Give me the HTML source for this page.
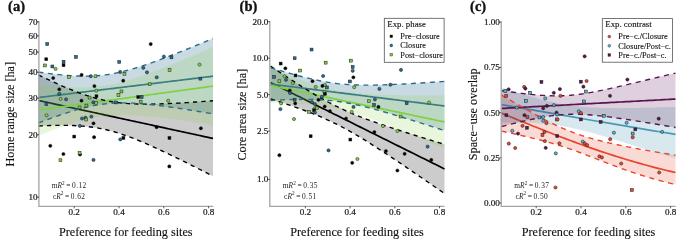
<!DOCTYPE html>
<html><head><meta charset="utf-8"><title>Figure</title>
<style>html,body{margin:0;padding:0;background:#fff;}svg{display:block;will-change:transform;}</style>
</head><body>
<svg width="685" height="243" viewBox="0 0 685 243">
<style>
.d{fill:none;stroke-width:1.4;}
.s{fill:none;stroke-width:1.7;}
text{font-family:"Liberation Serif", serif;fill:#111;stroke:#111;stroke-width:0.12px;}
.tk{font-size:9.1px;fill:#1a1a1a;stroke:#1a1a1a;stroke-width:0.22px;}
.lab{font-size:12.2px;}
.ttl{font-size:14.5px;font-weight:bold;stroke:#111;stroke-width:0.35px;}
.r2{font-size:7.4px;stroke:none;fill:#222;}
.lg{font-size:8.25px;}
.lgt{font-size:8.8px;}
</style>
<rect width="685" height="243" fill="#fff"/>
<polygon points="38.50,75.06 41.41,76.45 44.32,77.83 47.23,79.19 50.13,80.54 53.04,81.88 55.95,83.20 58.86,84.49 61.77,85.77 64.67,87.02 67.58,88.25 70.49,89.45 73.40,90.62 76.31,91.75 79.22,92.85 82.12,93.91 85.03,94.92 87.94,95.89 90.85,96.80 93.76,97.67 96.67,98.47 99.58,99.23 102.48,99.92 105.39,100.55 108.30,101.13 111.21,101.64 114.12,102.10 117.03,102.50 119.93,102.85 122.84,103.15 125.75,103.41 128.66,103.62 131.57,103.79 134.47,103.92 137.38,104.02 140.29,104.08 143.20,104.12 146.11,104.13 149.02,104.12 151.93,104.09 154.83,104.04 157.74,103.97 160.65,103.88 163.56,103.78 166.47,103.67 169.38,103.55 172.28,103.41 175.19,103.26 178.10,103.11 181.01,102.94 183.92,102.77 186.82,102.59 189.73,102.41 192.64,102.22 195.55,102.02 198.46,101.82 201.37,101.61 204.28,101.40 207.18,101.18 210.09,100.96 213.00,100.74 213.00,176.15 210.09,174.66 207.18,173.18 204.28,171.70 201.37,170.22 198.46,168.75 195.55,167.28 192.64,165.82 189.73,164.37 186.82,162.92 183.92,161.47 181.01,160.04 178.10,158.61 175.19,157.19 172.28,155.78 169.38,154.38 166.47,152.99 163.56,151.61 160.65,150.24 157.74,148.89 154.83,147.56 151.93,146.25 149.02,144.95 146.11,143.67 143.20,142.42 140.29,141.19 137.38,140.00 134.47,138.83 131.57,137.70 128.66,136.60 125.75,135.55 122.84,134.54 119.93,133.57 117.03,132.66 114.12,131.79 111.21,130.99 108.30,130.24 105.39,129.55 102.48,128.92 99.58,128.35 96.67,127.83 93.76,127.38 90.85,126.98 87.94,126.63 85.03,126.33 82.12,126.08 79.22,125.87 76.31,125.71 73.40,125.57 70.49,125.48 67.58,125.41 64.67,125.38 61.77,125.36 58.86,125.38 55.95,125.41 53.04,125.46 50.13,125.53 47.23,125.62 44.32,125.72 41.41,125.83 38.50,125.96" fill="#000000" fill-opacity="0.2" stroke="none"/>
<polyline points="38.50,100.51 41.41,101.14 44.32,101.77 47.23,102.41 50.13,103.04 53.04,103.67 55.95,104.30 58.86,104.93 61.77,105.57 64.67,106.20 67.58,106.83 70.49,107.46 73.40,108.10 76.31,108.73 79.22,109.36 82.12,109.99 85.03,110.63 87.94,111.26 90.85,111.89 93.76,112.52 96.67,113.15 99.58,113.79 102.48,114.42 105.39,115.05 108.30,115.68 111.21,116.32 114.12,116.95 117.03,117.58 119.93,118.21 122.84,118.84 125.75,119.48 128.66,120.11 131.57,120.74 134.47,121.37 137.38,122.01 140.29,122.64 143.20,123.27 146.11,123.90 149.02,124.54 151.93,125.17 154.83,125.80 157.74,126.43 160.65,127.06 163.56,127.70 166.47,128.33 169.38,128.96 172.28,129.59 175.19,130.23 178.10,130.86 181.01,131.49 183.92,132.12 186.82,132.75 189.73,133.39 192.64,134.02 195.55,134.65 198.46,135.28 201.37,135.92 204.28,136.55 207.18,137.18 210.09,137.81 213.00,138.44" class="s" stroke="#000000"/>
<polygon points="38.50,72.09 41.41,72.49 44.32,72.88 47.23,73.26 50.13,73.62 53.04,73.97 55.95,74.30 58.86,74.61 61.77,74.90 64.67,75.16 67.58,75.40 70.49,75.61 73.40,75.79 76.31,75.94 79.22,76.05 82.12,76.12 85.03,76.14 87.94,76.12 90.85,76.05 93.76,75.92 96.67,75.75 99.58,75.51 102.48,75.21 105.39,74.86 108.30,74.45 111.21,73.97 114.12,73.44 117.03,72.86 119.93,72.22 122.84,71.53 125.75,70.80 128.66,70.02 131.57,69.20 134.47,68.34 137.38,67.45 140.29,66.53 143.20,65.58 146.11,64.61 149.02,63.61 151.93,62.59 154.83,61.55 157.74,60.49 160.65,59.42 163.56,58.33 166.47,57.23 169.38,56.12 172.28,54.99 175.19,53.86 178.10,52.72 181.01,51.56 183.92,50.40 186.82,49.24 189.73,48.06 192.64,46.88 195.55,45.70 198.46,44.51 201.37,43.31 204.28,42.11 207.18,40.91 210.09,39.70 213.00,38.49 213.00,113.91 210.09,113.40 207.18,112.91 204.28,112.42 201.37,111.93 198.46,111.44 195.55,110.96 192.64,110.49 189.73,110.02 186.82,109.56 183.92,109.10 181.01,108.66 178.10,108.22 175.19,107.78 172.28,107.36 169.38,106.95 166.47,106.55 163.56,106.16 160.65,105.78 157.74,105.42 154.83,105.07 151.93,104.74 149.02,104.44 146.11,104.15 143.20,103.88 140.29,103.65 137.38,103.44 134.47,103.26 131.57,103.11 128.66,103.01 125.75,102.94 122.84,102.91 119.93,102.94 117.03,103.01 114.12,103.14 111.21,103.32 108.30,103.56 105.39,103.86 102.48,104.21 99.58,104.63 96.67,105.10 93.76,105.64 90.85,106.22 87.94,106.86 85.03,107.55 82.12,108.29 79.22,109.07 76.31,109.89 73.40,110.75 70.49,111.64 67.58,112.56 64.67,113.51 61.77,114.49 58.86,115.49 55.95,116.51 53.04,117.55 50.13,118.61 47.23,119.68 44.32,120.77 41.41,121.87 38.50,122.99" fill="#2a6b8e" fill-opacity="0.25" stroke="none"/>
<polyline points="38.50,97.54 41.41,97.18 44.32,96.83 47.23,96.47 50.13,96.12 53.04,95.76 55.95,95.40 58.86,95.05 61.77,94.69 64.67,94.34 67.58,93.98 70.49,93.63 73.40,93.27 76.31,92.91 79.22,92.56 82.12,92.20 85.03,91.85 87.94,91.49 90.85,91.14 93.76,90.78 96.67,90.43 99.58,90.07 102.48,89.71 105.39,89.36 108.30,89.00 111.21,88.65 114.12,88.29 117.03,87.94 119.93,87.58 122.84,87.22 125.75,86.87 128.66,86.51 131.57,86.16 134.47,85.80 137.38,85.45 140.29,85.09 143.20,84.73 146.11,84.38 149.02,84.02 151.93,83.67 154.83,83.31 157.74,82.96 160.65,82.60 163.56,82.24 166.47,81.89 169.38,81.53 172.28,81.18 175.19,80.82 178.10,80.47 181.01,80.11 183.92,79.75 186.82,79.40 189.73,79.04 192.64,78.69 195.55,78.33 198.46,77.98 201.37,77.62 204.28,77.26 207.18,76.91 210.09,76.55 213.00,76.20" class="s" stroke="#2a6b8e"/>
<polygon points="38.50,84.37 41.41,84.72 44.32,85.06 47.23,85.38 50.13,85.69 53.04,85.98 55.95,86.25 58.86,86.49 61.77,86.72 64.67,86.92 67.58,87.09 70.49,87.23 73.40,87.33 76.31,87.40 79.22,87.43 82.12,87.42 85.03,87.37 87.94,87.26 90.85,87.10 93.76,86.89 96.67,86.63 99.58,86.31 102.48,85.93 105.39,85.49 108.30,85.00 111.21,84.45 114.12,83.84 117.03,83.18 119.93,82.47 122.84,81.72 125.75,80.92 128.66,80.07 131.57,79.19 134.47,78.28 137.38,77.33 140.29,76.35 143.20,75.35 146.11,74.32 149.02,73.27 151.93,72.19 154.83,71.10 157.74,69.99 160.65,68.87 163.56,67.73 166.47,66.58 169.38,65.41 172.28,64.24 175.19,63.05 178.10,61.86 181.01,60.65 183.92,59.44 186.82,58.22 189.73,57.00 192.64,55.77 195.55,54.53 198.46,53.29 201.37,52.04 204.28,50.79 207.18,49.53 210.09,48.27 213.00,47.01 213.00,125.21 210.09,124.74 207.18,124.28 204.28,123.82 201.37,123.36 198.46,122.91 195.55,122.47 192.64,122.03 189.73,121.60 186.82,121.17 183.92,120.75 181.01,120.33 178.10,119.93 175.19,119.53 172.28,119.14 169.38,118.76 166.47,118.40 163.56,118.04 160.65,117.70 157.74,117.37 154.83,117.06 151.93,116.77 149.02,116.49 146.11,116.24 143.20,116.01 140.29,115.80 137.38,115.62 134.47,115.47 131.57,115.35 128.66,115.27 125.75,115.22 122.84,115.22 119.93,115.26 117.03,115.35 114.12,115.49 111.21,115.68 108.30,115.93 105.39,116.23 102.48,116.59 99.58,117.01 96.67,117.48 93.76,118.02 90.85,118.60 87.94,119.25 85.03,119.94 82.12,120.68 79.22,121.46 76.31,122.29 73.40,123.16 70.49,124.06 67.58,125.00 64.67,125.97 61.77,126.97 58.86,127.99 55.95,129.03 53.04,130.10 50.13,131.18 47.23,132.29 44.32,133.41 41.41,134.54 38.50,135.69" fill="#7fd13b" fill-opacity="0.18" stroke="none"/>
<polyline points="38.50,110.03 41.41,109.63 44.32,109.23 47.23,108.84 50.13,108.44 53.04,108.04 55.95,107.64 58.86,107.24 61.77,106.84 64.67,106.44 67.58,106.04 70.49,105.65 73.40,105.25 76.31,104.85 79.22,104.45 82.12,104.05 85.03,103.65 87.94,103.25 90.85,102.85 93.76,102.46 96.67,102.06 99.58,101.66 102.48,101.26 105.39,100.86 108.30,100.46 111.21,100.06 114.12,99.66 117.03,99.27 119.93,98.87 122.84,98.47 125.75,98.07 128.66,97.67 131.57,97.27 134.47,96.87 137.38,96.47 140.29,96.08 143.20,95.68 146.11,95.28 149.02,94.88 151.93,94.48 154.83,94.08 157.74,93.68 160.65,93.28 163.56,92.89 166.47,92.49 169.38,92.09 172.28,91.69 175.19,91.29 178.10,90.89 181.01,90.49 183.92,90.09 186.82,89.70 189.73,89.30 192.64,88.90 195.55,88.50 198.46,88.10 201.37,87.70 204.28,87.30 207.18,86.90 210.09,86.51 213.00,86.11" class="s" stroke="#7ed23e"/>
<polyline points="38.50,75.06 41.41,76.45 44.32,77.83 47.23,79.19 50.13,80.54 53.04,81.88 55.95,83.20 58.86,84.49 61.77,85.77 64.67,87.02 67.58,88.25 70.49,89.45 73.40,90.62 76.31,91.75 79.22,92.85 82.12,93.91 85.03,94.92 87.94,95.89 90.85,96.80 93.76,97.67 96.67,98.47 99.58,99.23 102.48,99.92 105.39,100.55 108.30,101.13 111.21,101.64 114.12,102.10 117.03,102.50 119.93,102.85 122.84,103.15 125.75,103.41 128.66,103.62 131.57,103.79 134.47,103.92 137.38,104.02 140.29,104.08 143.20,104.12 146.11,104.13 149.02,104.12 151.93,104.09 154.83,104.04 157.74,103.97 160.65,103.88 163.56,103.78 166.47,103.67 169.38,103.55 172.28,103.41 175.19,103.26 178.10,103.11 181.01,102.94 183.92,102.77 186.82,102.59 189.73,102.41 192.64,102.22 195.55,102.02 198.46,101.82 201.37,101.61 204.28,101.40 207.18,101.18 210.09,100.96 213.00,100.74" class="d" stroke="#000000" stroke-dasharray="4.3 4.1"/>
<polyline points="38.50,125.96 41.41,125.83 44.32,125.72 47.23,125.62 50.13,125.53 53.04,125.46 55.95,125.41 58.86,125.38 61.77,125.36 64.67,125.38 67.58,125.41 70.49,125.48 73.40,125.57 76.31,125.71 79.22,125.87 82.12,126.08 85.03,126.33 87.94,126.63 90.85,126.98 93.76,127.38 96.67,127.83 99.58,128.35 102.48,128.92 105.39,129.55 108.30,130.24 111.21,130.99 114.12,131.79 117.03,132.66 119.93,133.57 122.84,134.54 125.75,135.55 128.66,136.60 131.57,137.70 134.47,138.83 137.38,140.00 140.29,141.19 143.20,142.42 146.11,143.67 149.02,144.95 151.93,146.25 154.83,147.56 157.74,148.89 160.65,150.24 163.56,151.61 166.47,152.99 169.38,154.38 172.28,155.78 175.19,157.19 178.10,158.61 181.01,160.04 183.92,161.47 186.82,162.92 189.73,164.37 192.64,165.82 195.55,167.28 198.46,168.75 201.37,170.22 204.28,171.70 207.18,173.18 210.09,174.66 213.00,176.15" class="d" stroke="#000000" stroke-dasharray="4.3 4.1"/>
<polyline points="38.50,72.09 41.41,72.49 44.32,72.88 47.23,73.26 50.13,73.62 53.04,73.97 55.95,74.30 58.86,74.61 61.77,74.90 64.67,75.16 67.58,75.40 70.49,75.61 73.40,75.79 76.31,75.94 79.22,76.05 82.12,76.12 85.03,76.14 87.94,76.12 90.85,76.05 93.76,75.92 96.67,75.75 99.58,75.51 102.48,75.21 105.39,74.86 108.30,74.45 111.21,73.97 114.12,73.44 117.03,72.86 119.93,72.22 122.84,71.53 125.75,70.80 128.66,70.02 131.57,69.20 134.47,68.34 137.38,67.45 140.29,66.53 143.20,65.58 146.11,64.61 149.02,63.61 151.93,62.59 154.83,61.55 157.74,60.49 160.65,59.42 163.56,58.33 166.47,57.23 169.38,56.12 172.28,54.99 175.19,53.86 178.10,52.72 181.01,51.56 183.92,50.40 186.82,49.24 189.73,48.06 192.64,46.88 195.55,45.70 198.46,44.51 201.37,43.31 204.28,42.11 207.18,40.91 210.09,39.70 213.00,38.49" class="d" stroke="#2a6b8e" stroke-dasharray="4.9 4.6"/>
<polyline points="38.50,122.99 41.41,121.87 44.32,120.77 47.23,119.68 50.13,118.61 53.04,117.55 55.95,116.51 58.86,115.49 61.77,114.49 64.67,113.51 67.58,112.56 70.49,111.64 73.40,110.75 76.31,109.89 79.22,109.07 82.12,108.29 85.03,107.55 87.94,106.86 90.85,106.22 93.76,105.64 96.67,105.10 99.58,104.63 102.48,104.21 105.39,103.86 108.30,103.56 111.21,103.32 114.12,103.14 117.03,103.01 119.93,102.94 122.84,102.91 125.75,102.94 128.66,103.01 131.57,103.11 134.47,103.26 137.38,103.44 140.29,103.65 143.20,103.88 146.11,104.15 149.02,104.44 151.93,104.74 154.83,105.07 157.74,105.42 160.65,105.78 163.56,106.16 166.47,106.55 169.38,106.95 172.28,107.36 175.19,107.78 178.10,108.22 181.01,108.66 183.92,109.10 186.82,109.56 189.73,110.02 192.64,110.49 195.55,110.96 198.46,111.44 201.37,111.93 204.28,112.42 207.18,112.91 210.09,113.40 213.00,113.91" class="d" stroke="#2a6b8e" stroke-dasharray="4.9 4.6"/>
<polygon points="270.50,66.05 273.40,68.01 276.30,69.95 279.20,71.89 282.10,73.81 285.00,75.73 287.90,77.64 290.80,79.53 293.70,81.41 296.60,83.28 299.50,85.13 302.40,86.96 305.30,88.77 308.20,90.56 311.10,92.32 314.00,94.06 316.90,95.77 319.80,97.44 322.70,99.08 325.60,100.69 328.50,102.25 331.40,103.78 334.30,105.26 337.20,106.71 340.10,108.11 343.00,109.46 345.90,110.78 348.80,112.06 351.70,113.30 354.60,114.51 357.50,115.69 360.40,116.84 363.30,117.96 366.20,119.05 369.10,120.12 372.00,121.18 374.90,122.21 377.80,123.23 380.70,124.23 383.60,125.22 386.50,126.19 389.40,127.16 392.30,128.12 395.20,129.06 398.10,130.00 401.00,130.93 403.90,131.86 406.80,132.77 409.70,133.69 412.60,134.59 415.50,135.50 418.40,136.39 421.30,137.29 424.20,138.18 427.10,139.07 430.00,139.95 432.90,140.83 435.80,141.71 438.70,142.59 441.60,143.46 444.50,144.33 444.50,193.52 441.60,191.51 438.70,189.50 435.80,187.49 432.90,185.49 430.00,183.49 427.10,181.49 424.20,179.50 421.30,177.50 418.40,175.52 415.50,173.53 412.60,171.55 409.70,169.58 406.80,167.61 403.90,165.64 401.00,163.68 398.10,161.73 395.20,159.79 392.30,157.85 389.40,155.92 386.50,154.01 383.60,152.10 380.70,150.21 377.80,148.33 374.90,146.46 372.00,144.61 369.10,142.78 366.20,140.97 363.30,139.18 360.40,137.42 357.50,135.69 354.60,133.98 351.70,132.30 348.80,130.67 345.90,129.06 343.00,127.50 340.10,125.97 337.20,124.49 334.30,123.05 331.40,121.65 328.50,120.30 325.60,118.98 322.70,117.70 319.80,116.46 316.90,115.25 314.00,114.08 311.10,112.93 308.20,111.81 305.30,110.72 302.40,109.64 299.50,108.59 296.60,107.56 293.70,106.54 290.80,105.54 287.90,104.55 285.00,103.58 282.10,102.61 279.20,101.66 276.30,100.71 273.40,99.77 270.50,98.84" fill="#000000" fill-opacity="0.2" stroke="none"/>
<polyline points="270.50,82.45 273.40,83.89 276.30,85.33 279.20,86.77 282.10,88.21 285.00,89.66 287.90,91.10 290.80,92.54 293.70,93.98 296.60,95.42 299.50,96.86 302.40,98.30 305.30,99.74 308.20,101.19 311.10,102.63 314.00,104.07 316.90,105.51 319.80,106.95 322.70,108.39 325.60,109.83 328.50,111.27 331.40,112.72 334.30,114.16 337.20,115.60 340.10,117.04 343.00,118.48 345.90,119.92 348.80,121.36 351.70,122.80 354.60,124.25 357.50,125.69 360.40,127.13 363.30,128.57 366.20,130.01 369.10,131.45 372.00,132.89 374.90,134.34 377.80,135.78 380.70,137.22 383.60,138.66 386.50,140.10 389.40,141.54 392.30,142.98 395.20,144.42 398.10,145.87 401.00,147.31 403.90,148.75 406.80,150.19 409.70,151.63 412.60,153.07 415.50,154.51 418.40,155.95 421.30,157.40 424.20,158.84 427.10,160.28 430.00,161.72 432.90,163.16 435.80,164.60 438.70,166.04 441.60,167.49 444.50,168.93" class="s" stroke="#000000"/>
<polygon points="270.50,67.67 273.40,68.55 276.30,69.41 279.20,70.27 282.10,71.13 285.00,71.97 287.90,72.80 290.80,73.62 293.70,74.42 296.60,75.21 299.50,75.99 302.40,76.74 305.30,77.48 308.20,78.19 311.10,78.88 314.00,79.54 316.90,80.17 319.80,80.77 322.70,81.33 325.60,81.86 328.50,82.35 331.40,82.80 334.30,83.21 337.20,83.57 340.10,83.90 343.00,84.18 345.90,84.42 348.80,84.63 351.70,84.79 354.60,84.93 357.50,85.03 360.40,85.10 363.30,85.14 366.20,85.16 369.10,85.16 372.00,85.13 374.90,85.09 377.80,85.03 380.70,84.96 383.60,84.87 386.50,84.77 389.40,84.66 392.30,84.54 395.20,84.41 398.10,84.27 401.00,84.13 403.90,83.98 406.80,83.82 409.70,83.66 412.60,83.49 415.50,83.32 418.40,83.14 421.30,82.96 424.20,82.77 427.10,82.58 430.00,82.39 432.90,82.20 435.80,82.00 438.70,81.80 441.60,81.60 444.50,81.39 444.50,130.58 441.60,129.64 438.70,128.71 435.80,127.78 432.90,126.85 430.00,125.93 427.10,125.01 424.20,124.09 421.30,123.17 418.40,122.26 415.50,121.35 412.60,120.45 409.70,119.55 406.80,118.65 403.90,117.76 401.00,116.88 398.10,116.01 395.20,115.14 392.30,114.28 389.40,113.43 386.50,112.59 383.60,111.76 380.70,110.94 377.80,110.13 374.90,109.34 372.00,108.57 369.10,107.82 366.20,107.08 363.30,106.37 360.40,105.68 357.50,105.02 354.60,104.39 351.70,103.79 348.80,103.23 345.90,102.70 343.00,102.22 340.10,101.77 337.20,101.36 334.30,101.00 331.40,100.67 328.50,100.39 325.60,100.15 322.70,99.95 319.80,99.78 316.90,99.65 314.00,99.55 311.10,99.48 308.20,99.44 305.30,99.42 302.40,99.42 299.50,99.45 296.60,99.49 293.70,99.55 290.80,99.63 287.90,99.71 285.00,99.81 282.10,99.92 279.20,100.04 276.30,100.17 273.40,100.31 270.50,100.46" fill="#2a6b8e" fill-opacity="0.25" stroke="none"/>
<polyline points="270.50,84.06 273.40,84.43 276.30,84.79 279.20,85.16 282.10,85.52 285.00,85.89 287.90,86.26 290.80,86.62 293.70,86.99 296.60,87.35 299.50,87.72 302.40,88.08 305.30,88.45 308.20,88.81 311.10,89.18 314.00,89.54 316.90,89.91 319.80,90.27 322.70,90.64 325.60,91.01 328.50,91.37 331.40,91.74 334.30,92.10 337.20,92.47 340.10,92.83 343.00,93.20 345.90,93.56 348.80,93.93 351.70,94.29 354.60,94.66 357.50,95.03 360.40,95.39 363.30,95.76 366.20,96.12 369.10,96.49 372.00,96.85 374.90,97.22 377.80,97.58 380.70,97.95 383.60,98.31 386.50,98.68 389.40,99.04 392.30,99.41 395.20,99.78 398.10,100.14 401.00,100.51 403.90,100.87 406.80,101.24 409.70,101.60 412.60,101.97 415.50,102.33 418.40,102.70 421.30,103.06 424.20,103.43 427.10,103.79 430.00,104.16 432.90,104.53 435.80,104.89 438.70,105.26 441.60,105.62 444.50,105.99" class="s" stroke="#2a6b8e"/>
<polygon points="270.50,68.05 273.40,69.21 276.30,70.37 279.20,71.52 282.10,72.66 285.00,73.79 287.90,74.90 290.80,76.01 293.70,77.10 296.60,78.17 299.50,79.23 302.40,80.26 305.30,81.27 308.20,82.26 311.10,83.22 314.00,84.15 316.90,85.05 319.80,85.91 322.70,86.73 325.60,87.51 328.50,88.25 331.40,88.94 334.30,89.58 337.20,90.18 340.10,90.73 343.00,91.23 345.90,91.69 348.80,92.11 351.70,92.48 354.60,92.82 357.50,93.12 360.40,93.40 363.30,93.64 366.20,93.86 369.10,94.05 372.00,94.22 374.90,94.38 377.80,94.51 380.70,94.63 383.60,94.74 386.50,94.83 389.40,94.92 392.30,94.99 395.20,95.06 398.10,95.11 401.00,95.16 403.90,95.20 406.80,95.24 409.70,95.27 412.60,95.29 415.50,95.31 418.40,95.33 421.30,95.34 424.20,95.35 427.10,95.35 430.00,95.36 432.90,95.36 435.80,95.35 438.70,95.35 441.60,95.34 444.50,95.33 444.50,148.56 441.60,147.33 438.70,146.11 435.80,144.88 432.90,143.66 430.00,142.44 427.10,141.23 424.20,140.01 421.30,138.81 418.40,137.60 415.50,136.40 412.60,135.20 409.70,134.01 406.80,132.82 403.90,131.64 401.00,130.46 398.10,129.29 395.20,128.13 392.30,126.97 389.40,125.83 386.50,124.70 383.60,123.57 380.70,122.46 377.80,121.36 374.90,120.28 372.00,119.22 369.10,118.17 366.20,117.15 363.30,116.15 360.40,115.17 357.50,114.23 354.60,113.31 351.70,112.43 348.80,111.59 345.90,110.79 343.00,110.03 340.10,109.31 337.20,108.65 334.30,108.02 331.40,107.45 328.50,106.92 325.60,106.44 322.70,106.00 319.80,105.61 316.90,105.25 314.00,104.93 311.10,104.64 308.20,104.38 305.30,104.15 302.40,103.95 299.50,103.76 296.60,103.60 293.70,103.46 290.80,103.33 287.90,103.21 285.00,103.11 282.10,103.02 279.20,102.95 276.30,102.88 273.40,102.82 270.50,102.76" fill="#7fd13b" fill-opacity="0.18" stroke="none"/>
<polyline points="270.50,85.41 273.40,86.01 276.30,86.62 279.20,87.23 282.10,87.84 285.00,88.45 287.90,89.06 290.80,89.67 293.70,90.28 296.60,90.89 299.50,91.49 302.40,92.10 305.30,92.71 308.20,93.32 311.10,93.93 314.00,94.54 316.90,95.15 319.80,95.76 322.70,96.37 325.60,96.98 328.50,97.58 331.40,98.19 334.30,98.80 337.20,99.41 340.10,100.02 343.00,100.63 345.90,101.24 348.80,101.85 351.70,102.46 354.60,103.07 357.50,103.67 360.40,104.28 363.30,104.89 366.20,105.50 369.10,106.11 372.00,106.72 374.90,107.33 377.80,107.94 380.70,108.55 383.60,109.16 386.50,109.77 389.40,110.37 392.30,110.98 395.20,111.59 398.10,112.20 401.00,112.81 403.90,113.42 406.80,114.03 409.70,114.64 412.60,115.25 415.50,115.85 418.40,116.46 421.30,117.07 424.20,117.68 427.10,118.29 430.00,118.90 432.90,119.51 435.80,120.12 438.70,120.73 441.60,121.34 444.50,121.94" class="s" stroke="#7ed23e"/>
<polyline points="270.50,66.05 273.40,68.01 276.30,69.95 279.20,71.89 282.10,73.81 285.00,75.73 287.90,77.64 290.80,79.53 293.70,81.41 296.60,83.28 299.50,85.13 302.40,86.96 305.30,88.77 308.20,90.56 311.10,92.32 314.00,94.06 316.90,95.77 319.80,97.44 322.70,99.08 325.60,100.69 328.50,102.25 331.40,103.78 334.30,105.26 337.20,106.71 340.10,108.11 343.00,109.46 345.90,110.78 348.80,112.06 351.70,113.30 354.60,114.51 357.50,115.69 360.40,116.84 363.30,117.96 366.20,119.05 369.10,120.12 372.00,121.18 374.90,122.21 377.80,123.23 380.70,124.23 383.60,125.22 386.50,126.19 389.40,127.16 392.30,128.12 395.20,129.06 398.10,130.00 401.00,130.93 403.90,131.86 406.80,132.77 409.70,133.69 412.60,134.59 415.50,135.50 418.40,136.39 421.30,137.29 424.20,138.18 427.10,139.07 430.00,139.95 432.90,140.83 435.80,141.71 438.70,142.59 441.60,143.46 444.50,144.33" class="d" stroke="#000000" stroke-dasharray="4.3 4.1"/>
<polyline points="270.50,98.84 273.40,99.77 276.30,100.71 279.20,101.66 282.10,102.61 285.00,103.58 287.90,104.55 290.80,105.54 293.70,106.54 296.60,107.56 299.50,108.59 302.40,109.64 305.30,110.72 308.20,111.81 311.10,112.93 314.00,114.08 316.90,115.25 319.80,116.46 322.70,117.70 325.60,118.98 328.50,120.30 331.40,121.65 334.30,123.05 337.20,124.49 340.10,125.97 343.00,127.50 345.90,129.06 348.80,130.67 351.70,132.30 354.60,133.98 357.50,135.69 360.40,137.42 363.30,139.18 366.20,140.97 369.10,142.78 372.00,144.61 374.90,146.46 377.80,148.33 380.70,150.21 383.60,152.10 386.50,154.01 389.40,155.92 392.30,157.85 395.20,159.79 398.10,161.73 401.00,163.68 403.90,165.64 406.80,167.61 409.70,169.58 412.60,171.55 415.50,173.53 418.40,175.52 421.30,177.50 424.20,179.50 427.10,181.49 430.00,183.49 432.90,185.49 435.80,187.49 438.70,189.50 441.60,191.51 444.50,193.52" class="d" stroke="#000000" stroke-dasharray="4.3 4.1"/>
<polyline points="270.50,67.67 273.40,68.55 276.30,69.41 279.20,70.27 282.10,71.13 285.00,71.97 287.90,72.80 290.80,73.62 293.70,74.42 296.60,75.21 299.50,75.99 302.40,76.74 305.30,77.48 308.20,78.19 311.10,78.88 314.00,79.54 316.90,80.17 319.80,80.77 322.70,81.33 325.60,81.86 328.50,82.35 331.40,82.80 334.30,83.21 337.20,83.57 340.10,83.90 343.00,84.18 345.90,84.42 348.80,84.63 351.70,84.79 354.60,84.93 357.50,85.03 360.40,85.10 363.30,85.14 366.20,85.16 369.10,85.16 372.00,85.13 374.90,85.09 377.80,85.03 380.70,84.96 383.60,84.87 386.50,84.77 389.40,84.66 392.30,84.54 395.20,84.41 398.10,84.27 401.00,84.13 403.90,83.98 406.80,83.82 409.70,83.66 412.60,83.49 415.50,83.32 418.40,83.14 421.30,82.96 424.20,82.77 427.10,82.58 430.00,82.39 432.90,82.20 435.80,82.00 438.70,81.80 441.60,81.60 444.50,81.39" class="d" stroke="#2a6b8e" stroke-dasharray="4.9 4.6"/>
<polyline points="270.50,100.46 273.40,100.31 276.30,100.17 279.20,100.04 282.10,99.92 285.00,99.81 287.90,99.71 290.80,99.63 293.70,99.55 296.60,99.49 299.50,99.45 302.40,99.42 305.30,99.42 308.20,99.44 311.10,99.48 314.00,99.55 316.90,99.65 319.80,99.78 322.70,99.95 325.60,100.15 328.50,100.39 331.40,100.67 334.30,101.00 337.20,101.36 340.10,101.77 343.00,102.22 345.90,102.70 348.80,103.23 351.70,103.79 354.60,104.39 357.50,105.02 360.40,105.68 363.30,106.37 366.20,107.08 369.10,107.82 372.00,108.57 374.90,109.34 377.80,110.13 380.70,110.94 383.60,111.76 386.50,112.59 389.40,113.43 392.30,114.28 395.20,115.14 398.10,116.01 401.00,116.88 403.90,117.76 406.80,118.65 409.70,119.55 412.60,120.45 415.50,121.35 418.40,122.26 421.30,123.17 424.20,124.09 427.10,125.01 430.00,125.93 432.90,126.85 435.80,127.78 438.70,128.71 441.60,129.64 444.50,130.58" class="d" stroke="#2a6b8e" stroke-dasharray="4.9 4.6"/>
<polygon points="501.50,95.09 504.40,96.77 507.30,98.46 510.20,100.15 513.10,101.85 516.00,103.54 518.90,105.22 521.80,106.90 524.70,108.57 527.60,110.23 530.50,111.87 533.40,113.50 536.30,115.10 539.20,116.68 542.10,118.24 545.00,119.76 547.90,121.25 550.80,122.71 553.70,124.13 556.60,125.50 559.50,126.84 562.40,128.12 565.30,129.36 568.20,130.55 571.10,131.69 574.00,132.79 576.90,133.84 579.80,134.84 582.70,135.80 585.60,136.71 588.50,137.59 591.40,138.43 594.30,139.24 597.20,140.02 600.10,140.77 603.00,141.49 605.90,142.19 608.80,142.87 611.70,143.52 614.60,144.16 617.50,144.79 620.40,145.40 623.30,145.99 626.20,146.57 629.10,147.15 632.00,147.71 634.90,148.25 637.80,148.80 640.70,149.33 643.60,149.85 646.50,150.37 649.40,150.88 652.30,151.38 655.20,151.87 658.10,152.36 661.00,152.85 663.90,153.32 666.80,153.80 669.70,154.26 672.60,154.73 675.50,155.18 675.50,184.48 672.60,183.81 669.70,183.11 666.80,182.40 663.90,181.66 661.00,180.91 658.10,180.13 655.20,179.33 652.30,178.51 649.40,177.66 646.50,176.80 643.60,175.91 640.70,175.00 637.80,174.07 634.90,173.12 632.00,172.15 629.10,171.16 626.20,170.15 623.30,169.12 620.40,168.07 617.50,167.01 614.60,165.93 611.70,164.83 608.80,163.73 605.90,162.61 603.00,161.48 600.10,160.35 597.20,159.22 594.30,158.08 591.40,156.95 588.50,155.82 585.60,154.70 582.70,153.59 579.80,152.50 576.90,151.43 574.00,150.37 571.10,149.35 568.20,148.34 565.30,147.37 562.40,146.42 559.50,145.50 556.60,144.61 553.70,143.74 550.80,142.90 547.90,142.09 545.00,141.29 542.10,140.52 539.20,139.77 536.30,139.04 533.40,138.32 530.50,137.62 527.60,136.93 524.70,136.25 521.80,135.59 518.90,134.93 516.00,134.28 513.10,133.65 510.20,133.01 507.30,132.39 504.40,131.77 501.50,131.15" fill="#e8452c" fill-opacity="0.2" stroke="none"/>
<polyline points="501.50,113.14 504.40,114.34 507.30,115.53 510.20,116.72 513.10,117.91 516.00,119.10 518.90,120.29 521.80,121.47 524.70,122.65 527.60,123.83 530.50,125.00 533.40,126.17 536.30,127.33 539.20,128.49 542.10,129.65 545.00,130.80 547.90,131.94 550.80,133.07 553.70,134.20 556.60,135.33 559.50,136.44 562.40,137.55 565.30,138.65 568.20,139.74 571.10,140.82 574.00,141.89 576.90,142.95 579.80,144.01 582.70,145.05 585.60,146.09 588.50,147.11 591.40,148.13 594.30,149.13 597.20,150.13 600.10,151.11 603.00,152.08 605.90,153.04 608.80,153.99 611.70,154.93 614.60,155.85 617.50,156.77 620.40,157.67 623.30,158.56 626.20,159.44 629.10,160.31 632.00,161.16 634.90,162.01 637.80,162.84 640.70,163.66 643.60,164.46 646.50,165.26 649.40,166.04 652.30,166.81 655.20,167.57 658.10,168.32 661.00,169.05 663.90,169.77 666.80,170.48 669.70,171.18 672.60,171.87 675.50,172.54" class="s" stroke="#e8452c"/>
<polygon points="501.50,87.42 504.40,88.37 507.30,89.30 510.20,90.24 513.10,91.16 516.00,92.08 518.90,92.99 521.80,93.89 524.70,94.78 527.60,95.65 530.50,96.50 533.40,97.34 536.30,98.15 539.20,98.94 542.10,99.71 545.00,100.44 547.90,101.15 550.80,101.82 553.70,102.46 556.60,103.06 559.50,103.63 562.40,104.15 565.30,104.64 568.20,105.09 571.10,105.51 574.00,105.88 576.90,106.22 579.80,106.52 582.70,106.79 585.60,107.03 588.50,107.24 591.40,107.42 594.30,107.58 597.20,107.71 600.10,107.82 603.00,107.91 605.90,107.99 608.80,108.04 611.70,108.08 614.60,108.11 617.50,108.13 620.40,108.13 623.30,108.12 626.20,108.11 629.10,108.08 632.00,108.05 634.90,108.00 637.80,107.96 640.70,107.90 643.60,107.84 646.50,107.77 649.40,107.70 652.30,107.63 655.20,107.55 658.10,107.46 661.00,107.37 663.90,107.28 666.80,107.19 669.70,107.09 672.60,106.99 675.50,106.89 675.50,158.19 672.60,157.36 669.70,156.52 666.80,155.67 663.90,154.81 661.00,153.95 658.10,153.08 655.20,152.20 652.30,151.32 649.40,150.43 646.50,149.54 643.60,148.64 640.70,147.74 637.80,146.83 634.90,145.92 632.00,145.01 629.10,144.10 626.20,143.19 623.30,142.28 620.40,141.37 617.50,140.47 614.60,139.57 611.70,138.67 608.80,137.79 605.90,136.91 603.00,136.04 600.10,135.19 597.20,134.34 594.30,133.52 591.40,132.71 588.50,131.93 585.60,131.17 582.70,130.43 579.80,129.72 576.90,129.05 574.00,128.40 571.10,127.79 568.20,127.21 565.30,126.67 562.40,126.17 559.50,125.71 556.60,125.28 553.70,124.89 550.80,124.54 547.90,124.22 545.00,123.94 542.10,123.69 539.20,123.47 536.30,123.27 533.40,123.10 530.50,122.96 527.60,122.84 524.70,122.74 521.80,122.66 518.90,122.59 516.00,122.54 513.10,122.51 510.20,122.49 507.30,122.48 504.40,122.48 501.50,122.49" fill="#4a9ab5" fill-opacity="0.22" stroke="none"/>
<polyline points="501.50,104.66 504.40,105.15 507.30,105.65 510.20,106.16 513.10,106.66 516.00,107.16 518.90,107.66 521.80,108.16 524.70,108.66 527.60,109.17 530.50,109.67 533.40,110.17 536.30,110.67 539.20,111.18 542.10,111.68 545.00,112.18 547.90,112.69 550.80,113.19 553.70,113.69 556.60,114.20 559.50,114.70 562.40,115.20 565.30,115.71 568.20,116.21 571.10,116.71 574.00,117.21 576.90,117.71 579.80,118.22 582.70,118.72 585.60,119.22 588.50,119.72 591.40,120.22 594.30,120.72 597.20,121.22 600.10,121.71 603.00,122.21 605.90,122.71 608.80,123.21 611.70,123.70 614.60,124.20 617.50,124.69 620.40,125.19 623.30,125.68 626.20,126.17 629.10,126.66 632.00,127.15 634.90,127.64 637.80,128.13 640.70,128.62 643.60,129.11 646.50,129.59 649.40,130.08 652.30,130.56 655.20,131.04 658.10,131.53 661.00,132.01 663.90,132.49 666.80,132.96 669.70,133.44 672.60,133.92 675.50,134.39" class="s" stroke="#4a9ab5"/>
<polygon points="501.50,90.63 504.40,91.05 507.30,91.46 510.20,91.86 513.10,92.26 516.00,92.64 518.90,93.01 521.80,93.37 524.70,93.71 527.60,94.04 530.50,94.35 533.40,94.64 536.30,94.91 539.20,95.15 542.10,95.36 545.00,95.53 547.90,95.68 550.80,95.78 553.70,95.84 556.60,95.86 559.50,95.83 562.40,95.75 565.30,95.62 568.20,95.43 571.10,95.20 574.00,94.92 576.90,94.60 579.80,94.23 582.70,93.82 585.60,93.37 588.50,92.89 591.40,92.37 594.30,91.83 597.20,91.27 600.10,90.68 603.00,90.08 605.90,89.46 608.80,88.83 611.70,88.18 614.60,87.53 617.50,86.86 620.40,86.19 623.30,85.52 626.20,84.83 629.10,84.15 632.00,83.46 634.90,82.77 637.80,82.07 640.70,81.38 643.60,80.69 646.50,79.99 649.40,79.30 652.30,78.61 655.20,77.91 658.10,77.23 661.00,76.54 663.90,75.86 666.80,75.17 669.70,74.50 672.60,73.82 675.50,73.15 675.50,127.46 672.60,126.96 669.70,126.47 666.80,125.97 663.90,125.48 661.00,124.99 658.10,124.50 655.20,124.01 652.30,123.53 649.40,123.05 646.50,122.57 643.60,122.10 640.70,121.63 637.80,121.16 634.90,120.70 632.00,120.25 629.10,119.80 626.20,119.36 623.30,118.93 620.40,118.50 617.50,118.09 614.60,117.68 611.70,117.29 608.80,116.92 605.90,116.55 603.00,116.21 600.10,115.88 597.20,115.58 594.30,115.30 591.40,115.05 588.50,114.82 585.60,114.63 582.70,114.48 579.80,114.37 576.90,114.30 574.00,114.27 571.10,114.30 568.20,114.38 565.30,114.50 562.40,114.68 559.50,114.92 556.60,115.20 553.70,115.53 550.80,115.91 547.90,116.33 545.00,116.80 542.10,117.30 539.20,117.83 536.30,118.39 533.40,118.98 530.50,119.60 527.60,120.23 524.70,120.88 521.80,121.55 518.90,122.24 516.00,122.94 513.10,123.65 510.20,124.37 507.30,125.09 504.40,125.83 501.50,126.57" fill="#5b1450" fill-opacity="0.2" stroke="none"/>
<polyline points="501.50,108.44 504.40,108.28 507.30,108.12 510.20,107.96 513.10,107.81 516.00,107.65 518.90,107.49 521.80,107.33 524.70,107.18 527.60,107.02 530.50,106.86 533.40,106.70 536.30,106.55 539.20,106.39 542.10,106.23 545.00,106.08 547.90,105.92 550.80,105.76 553.70,105.60 556.60,105.45 559.50,105.29 562.40,105.13 565.30,104.98 568.20,104.82 571.10,104.66 574.00,104.51 576.90,104.35 579.80,104.19 582.70,104.04 585.60,103.88 588.50,103.72 591.40,103.57 594.30,103.41 597.20,103.25 600.10,103.10 603.00,102.94 605.90,102.78 608.80,102.63 611.70,102.47 614.60,102.32 617.50,102.16 620.40,102.00 623.30,101.85 626.20,101.69 629.10,101.54 632.00,101.38 634.90,101.23 637.80,101.07 640.70,100.92 643.60,100.76 646.50,100.60 649.40,100.45 652.30,100.29 655.20,100.14 658.10,99.98 661.00,99.83 663.90,99.67 666.80,99.52 669.70,99.37 672.60,99.21 675.50,99.06" class="s" stroke="#5b1450"/>
<polyline points="501.50,95.09 504.40,96.77 507.30,98.46 510.20,100.15 513.10,101.85 516.00,103.54 518.90,105.22 521.80,106.90 524.70,108.57 527.60,110.23 530.50,111.87 533.40,113.50 536.30,115.10 539.20,116.68 542.10,118.24 545.00,119.76 547.90,121.25 550.80,122.71 553.70,124.13 556.60,125.50 559.50,126.84 562.40,128.12 565.30,129.36 568.20,130.55 571.10,131.69 574.00,132.79 576.90,133.84 579.80,134.84 582.70,135.80 585.60,136.71 588.50,137.59 591.40,138.43 594.30,139.24 597.20,140.02 600.10,140.77 603.00,141.49 605.90,142.19 608.80,142.87 611.70,143.52 614.60,144.16 617.50,144.79 620.40,145.40 623.30,145.99 626.20,146.57 629.10,147.15 632.00,147.71 634.90,148.25 637.80,148.80 640.70,149.33 643.60,149.85 646.50,150.37 649.40,150.88 652.30,151.38 655.20,151.87 658.10,152.36 661.00,152.85 663.90,153.32 666.80,153.80 669.70,154.26 672.60,154.73 675.50,155.18" class="d" stroke="#e8452c" stroke-dasharray="5.1 4.6"/>
<polyline points="501.50,131.15 504.40,131.77 507.30,132.39 510.20,133.01 513.10,133.65 516.00,134.28 518.90,134.93 521.80,135.59 524.70,136.25 527.60,136.93 530.50,137.62 533.40,138.32 536.30,139.04 539.20,139.77 542.10,140.52 545.00,141.29 547.90,142.09 550.80,142.90 553.70,143.74 556.60,144.61 559.50,145.50 562.40,146.42 565.30,147.37 568.20,148.34 571.10,149.35 574.00,150.37 576.90,151.43 579.80,152.50 582.70,153.59 585.60,154.70 588.50,155.82 591.40,156.95 594.30,158.08 597.20,159.22 600.10,160.35 603.00,161.48 605.90,162.61 608.80,163.73 611.70,164.83 614.60,165.93 617.50,167.01 620.40,168.07 623.30,169.12 626.20,170.15 629.10,171.16 632.00,172.15 634.90,173.12 637.80,174.07 640.70,175.00 643.60,175.91 646.50,176.80 649.40,177.66 652.30,178.51 655.20,179.33 658.10,180.13 661.00,180.91 663.90,181.66 666.80,182.40 669.70,183.11 672.60,183.81 675.50,184.48" class="d" stroke="#e8452c" stroke-dasharray="5.1 4.6"/>
<polyline points="501.50,90.63 504.40,91.05 507.30,91.46 510.20,91.86 513.10,92.26 516.00,92.64 518.90,93.01 521.80,93.37 524.70,93.71 527.60,94.04 530.50,94.35 533.40,94.64 536.30,94.91 539.20,95.15 542.10,95.36 545.00,95.53 547.90,95.68 550.80,95.78 553.70,95.84 556.60,95.86 559.50,95.83 562.40,95.75 565.30,95.62 568.20,95.43 571.10,95.20 574.00,94.92 576.90,94.60 579.80,94.23 582.70,93.82 585.60,93.37 588.50,92.89 591.40,92.37 594.30,91.83 597.20,91.27 600.10,90.68 603.00,90.08 605.90,89.46 608.80,88.83 611.70,88.18 614.60,87.53 617.50,86.86 620.40,86.19 623.30,85.52 626.20,84.83 629.10,84.15 632.00,83.46 634.90,82.77 637.80,82.07 640.70,81.38 643.60,80.69 646.50,79.99 649.40,79.30 652.30,78.61 655.20,77.91 658.10,77.23 661.00,76.54 663.90,75.86 666.80,75.17 669.70,74.50 672.60,73.82 675.50,73.15" class="d" stroke="#5b1450" stroke-dasharray="5.1 4.6"/>
<polyline points="501.50,126.57 504.40,125.83 507.30,125.09 510.20,124.37 513.10,123.65 516.00,122.94 518.90,122.24 521.80,121.55 524.70,120.88 527.60,120.23 530.50,119.60 533.40,118.98 536.30,118.39 539.20,117.83 542.10,117.30 545.00,116.80 547.90,116.33 550.80,115.91 553.70,115.53 556.60,115.20 559.50,114.92 562.40,114.68 565.30,114.50 568.20,114.38 571.10,114.30 574.00,114.27 576.90,114.30 579.80,114.37 582.70,114.48 585.60,114.63 588.50,114.82 591.40,115.05 594.30,115.30 597.20,115.58 600.10,115.88 603.00,116.21 605.90,116.55 608.80,116.92 611.70,117.29 614.60,117.68 617.50,118.09 620.40,118.50 623.30,118.93 626.20,119.36 629.10,119.80 632.00,120.25 634.90,120.70 637.80,121.16 640.70,121.63 643.60,122.10 646.50,122.57 649.40,123.05 652.30,123.53 655.20,124.01 658.10,124.50 661.00,124.99 663.90,125.48 666.80,125.97 669.70,126.47 672.60,126.96 675.50,127.46" class="d" stroke="#5b1450" stroke-dasharray="5.1 4.6"/>
<rect x="45.8" y="42.6" width="2.9" height="2.9" fill="#2a6b8e" stroke="#1a1a1a" stroke-width="0.5"/>
<rect x="44.8" y="57.8" width="2.9" height="2.9" fill="#000000" stroke="#1a1a1a" stroke-width="0.5"/>
<rect x="62.1" y="60.3" width="2.9" height="2.9" fill="#2a6b8e" stroke="#1a1a1a" stroke-width="0.5"/>
<rect x="74.5" y="55.5" width="2.9" height="2.9" fill="#2a6b8e" stroke="#1a1a1a" stroke-width="0.5"/>
<rect x="43.5" y="64.0" width="2.9" height="2.9" fill="#7fd13b" stroke="#1a1a1a" stroke-width="0.5"/>
<rect x="50.9" y="65.0" width="2.9" height="2.9" fill="#2a6b8e" stroke="#1a1a1a" stroke-width="0.5"/>
<circle cx="55.6" cy="68.9" r="1.6" fill="#7fd13b" stroke="#1a1a1a" stroke-width="0.5"/>
<rect x="62.1" y="63.8" width="2.9" height="2.9" fill="#000000" stroke="#1a1a1a" stroke-width="0.5"/>
<circle cx="53.2" cy="78.0" r="1.6" fill="#000000" stroke="#1a1a1a" stroke-width="0.5"/>
<rect x="67.6" y="75.5" width="2.9" height="2.9" fill="#7fd13b" stroke="#1a1a1a" stroke-width="0.5"/>
<circle cx="81.6" cy="74.9" r="1.6" fill="#000000" stroke="#1a1a1a" stroke-width="0.5"/>
<circle cx="59.3" cy="89.3" r="1.6" fill="#000000" stroke="#1a1a1a" stroke-width="0.5"/>
<circle cx="59.3" cy="93.9" r="1.6" fill="#2a6b8e" stroke="#1a1a1a" stroke-width="0.5"/>
<circle cx="60.6" cy="98.9" r="1.6" fill="#7fd13b" stroke="#1a1a1a" stroke-width="0.5"/>
<circle cx="66.1" cy="99.3" r="1.6" fill="#2a6b8e" stroke="#1a1a1a" stroke-width="0.5"/>
<circle cx="81.5" cy="100.7" r="1.6" fill="#000000" stroke="#1a1a1a" stroke-width="0.5"/>
<rect x="44.9" y="102.8" width="2.9" height="2.9" fill="#2a6b8e" stroke="#1a1a1a" stroke-width="0.5"/>
<circle cx="46.6" cy="115.3" r="1.6" fill="#7fd13b" stroke="#1a1a1a" stroke-width="0.5"/>
<circle cx="90.8" cy="76.2" r="1.6" fill="#2a6b8e" stroke="#1a1a1a" stroke-width="0.5"/>
<rect x="94.0" y="74.8" width="2.9" height="2.9" fill="#7fd13b" stroke="#1a1a1a" stroke-width="0.5"/>
<circle cx="94.4" cy="86.1" r="1.6" fill="#000000" stroke="#1a1a1a" stroke-width="0.5"/>
<circle cx="96.3" cy="90.7" r="1.6" fill="#7fd13b" stroke="#1a1a1a" stroke-width="0.5"/>
<rect x="95.0" y="94.8" width="2.9" height="2.9" fill="#000000" stroke="#1a1a1a" stroke-width="0.5"/>
<rect x="88.1" y="96.1" width="2.9" height="2.9" fill="#7fd13b" stroke="#1a1a1a" stroke-width="0.5"/>
<rect x="120.0" y="90.0" width="2.9" height="2.9" fill="#7fd13b" stroke="#1a1a1a" stroke-width="0.5"/>
<rect x="117.0" y="93.5" width="2.9" height="2.9" fill="#7fd13b" stroke="#1a1a1a" stroke-width="0.5"/>
<circle cx="93.3" cy="102.4" r="1.6" fill="#2a6b8e" stroke="#1a1a1a" stroke-width="0.5"/>
<rect x="94.8" y="101.6" width="2.9" height="2.9" fill="#7fd13b" stroke="#1a1a1a" stroke-width="0.5"/>
<rect x="85.0" y="104.1" width="2.9" height="2.9" fill="#7fd13b" stroke="#1a1a1a" stroke-width="0.5"/>
<rect x="78.1" y="106.0" width="2.9" height="2.9" fill="#7fd13b" stroke="#1a1a1a" stroke-width="0.5"/>
<rect x="114.6" y="101.0" width="2.9" height="2.9" fill="#2a6b8e" stroke="#1a1a1a" stroke-width="0.5"/>
<circle cx="123.2" cy="80.7" r="1.6" fill="#000000" stroke="#1a1a1a" stroke-width="0.5"/>
<circle cx="85.5" cy="117.7" r="1.6" fill="#2a6b8e" stroke="#1a1a1a" stroke-width="0.5"/>
<circle cx="82.0" cy="118.5" r="1.6" fill="#2a6b8e" stroke="#1a1a1a" stroke-width="0.5"/>
<circle cx="91.4" cy="116.6" r="1.6" fill="#2a6b8e" stroke="#1a1a1a" stroke-width="0.5"/>
<rect x="84.8" y="118.1" width="2.9" height="2.9" fill="#7fd13b" stroke="#1a1a1a" stroke-width="0.5"/>
<circle cx="93.5" cy="123.3" r="1.6" fill="#000000" stroke="#1a1a1a" stroke-width="0.5"/>
<circle cx="79.8" cy="125.9" r="1.6" fill="#2a6b8e" stroke="#1a1a1a" stroke-width="0.5"/>
<rect x="72.8" y="135.1" width="2.9" height="2.9" fill="#000000" stroke="#1a1a1a" stroke-width="0.5"/>
<circle cx="94.1" cy="137.2" r="1.6" fill="#000000" stroke="#1a1a1a" stroke-width="0.5"/>
<circle cx="50.3" cy="145.8" r="1.6" fill="#000000" stroke="#1a1a1a" stroke-width="0.5"/>
<circle cx="63.4" cy="154.0" r="1.6" fill="#000000" stroke="#1a1a1a" stroke-width="0.5"/>
<circle cx="80.0" cy="154.5" r="1.6" fill="#000000" stroke="#1a1a1a" stroke-width="0.5"/>
<rect x="78.1" y="151.4" width="2.9" height="2.9" fill="#7fd13b" stroke="#1a1a1a" stroke-width="0.5"/>
<rect x="59.0" y="158.8" width="2.9" height="2.9" fill="#7fd13b" stroke="#1a1a1a" stroke-width="0.5"/>
<circle cx="93.5" cy="159.9" r="1.6" fill="#2a6b8e" stroke="#1a1a1a" stroke-width="0.5"/>
<circle cx="150.7" cy="44.1" r="1.6" fill="#000000" stroke="#1a1a1a" stroke-width="0.5"/>
<rect x="117.8" y="60.5" width="2.9" height="2.9" fill="#2a6b8e" stroke="#1a1a1a" stroke-width="0.5"/>
<circle cx="120.2" cy="71.9" r="1.6" fill="#2a6b8e" stroke="#1a1a1a" stroke-width="0.5"/>
<rect x="123.0" y="72.3" width="2.9" height="2.9" fill="#7fd13b" stroke="#1a1a1a" stroke-width="0.5"/>
<circle cx="143.3" cy="67.8" r="1.6" fill="#2a6b8e" stroke="#1a1a1a" stroke-width="0.5"/>
<circle cx="147.0" cy="72.3" r="1.6" fill="#2a6b8e" stroke="#1a1a1a" stroke-width="0.5"/>
<circle cx="156.7" cy="77.3" r="1.6" fill="#2a6b8e" stroke="#1a1a1a" stroke-width="0.5"/>
<rect x="148.2" y="82.8" width="2.9" height="2.9" fill="#7fd13b" stroke="#1a1a1a" stroke-width="0.5"/>
<rect x="136.8" y="95.6" width="2.9" height="2.9" fill="#000000" stroke="#1a1a1a" stroke-width="0.5"/>
<rect x="140.2" y="95.6" width="2.9" height="2.9" fill="#2a6b8e" stroke="#1a1a1a" stroke-width="0.5"/>
<rect x="139.2" y="100.2" width="2.9" height="2.9" fill="#7fd13b" stroke="#1a1a1a" stroke-width="0.5"/>
<circle cx="168.2" cy="100.7" r="1.6" fill="#7fd13b" stroke="#1a1a1a" stroke-width="0.5"/>
<circle cx="163.9" cy="56.6" r="1.6" fill="#2a6b8e" stroke="#1a1a1a" stroke-width="0.5"/>
<rect x="170.0" y="55.9" width="2.9" height="2.9" fill="#2a6b8e" stroke="#1a1a1a" stroke-width="0.5"/>
<rect x="168.1" y="68.5" width="2.9" height="2.9" fill="#7fd13b" stroke="#1a1a1a" stroke-width="0.5"/>
<circle cx="199.5" cy="64.6" r="1.6" fill="#7fd13b" stroke="#1a1a1a" stroke-width="0.5"/>
<rect x="198.9" y="77.2" width="2.9" height="2.9" fill="#2a6b8e" stroke="#1a1a1a" stroke-width="0.5"/>
<circle cx="200.9" cy="128.3" r="1.6" fill="#000000" stroke="#1a1a1a" stroke-width="0.5"/>
<rect x="122.0" y="136.5" width="2.9" height="2.9" fill="#000000" stroke="#1a1a1a" stroke-width="0.5"/>
<circle cx="120.3" cy="139.4" r="1.6" fill="#2a6b8e" stroke="#1a1a1a" stroke-width="0.5"/>
<circle cx="156.6" cy="127.2" r="1.6" fill="#000000" stroke="#1a1a1a" stroke-width="0.5"/>
<rect x="168.0" y="136.5" width="2.9" height="2.9" fill="#000000" stroke="#1a1a1a" stroke-width="0.5"/>
<circle cx="169.3" cy="166.4" r="1.6" fill="#000000" stroke="#1a1a1a" stroke-width="0.5"/>
<rect x="310.1" y="48.1" width="2.9" height="2.9" fill="#2a6b8e" stroke="#1a1a1a" stroke-width="0.5"/>
<rect x="293.2" y="56.8" width="2.9" height="2.9" fill="#2a6b8e" stroke="#1a1a1a" stroke-width="0.5"/>
<rect x="324.2" y="61.2" width="2.9" height="2.9" fill="#7fd13b" stroke="#1a1a1a" stroke-width="0.5"/>
<rect x="279.2" y="62.1" width="2.9" height="2.9" fill="#000000" stroke="#1a1a1a" stroke-width="0.5"/>
<circle cx="285.4" cy="68.3" r="1.6" fill="#000000" stroke="#1a1a1a" stroke-width="0.5"/>
<rect x="298.7" y="69.1" width="2.9" height="2.9" fill="#7fd13b" stroke="#1a1a1a" stroke-width="0.5"/>
<rect x="294.1" y="74.0" width="2.9" height="2.9" fill="#000000" stroke="#1a1a1a" stroke-width="0.5"/>
<circle cx="323.1" cy="76.0" r="1.6" fill="#2a6b8e" stroke="#1a1a1a" stroke-width="0.5"/>
<rect x="272.6" y="75.5" width="2.9" height="2.9" fill="#2a6b8e" stroke="#1a1a1a" stroke-width="0.5"/>
<circle cx="284.5" cy="76.2" r="1.6" fill="#7fd13b" stroke="#1a1a1a" stroke-width="0.5"/>
<circle cx="286.0" cy="79.8" r="1.6" fill="#2a6b8e" stroke="#1a1a1a" stroke-width="0.5"/>
<rect x="277.9" y="79.8" width="2.9" height="2.9" fill="#7fd13b" stroke="#1a1a1a" stroke-width="0.5"/>
<circle cx="292.8" cy="83.2" r="1.6" fill="#7fd13b" stroke="#1a1a1a" stroke-width="0.5"/>
<rect x="349.4" y="59.2" width="2.9" height="2.9" fill="#7fd13b" stroke="#1a1a1a" stroke-width="0.5"/>
<rect x="351.2" y="65.5" width="2.9" height="2.9" fill="#2a6b8e" stroke="#1a1a1a" stroke-width="0.5"/>
<circle cx="352.7" cy="70.8" r="1.6" fill="#2a6b8e" stroke="#1a1a1a" stroke-width="0.5"/>
<circle cx="353.4" cy="77.3" r="1.6" fill="#000000" stroke="#1a1a1a" stroke-width="0.5"/>
<rect x="348.4" y="80.0" width="2.9" height="2.9" fill="#2a6b8e" stroke="#1a1a1a" stroke-width="0.5"/>
<circle cx="354.2" cy="87.2" r="1.6" fill="#7fd13b" stroke="#1a1a1a" stroke-width="0.5"/>
<circle cx="379.4" cy="88.9" r="1.6" fill="#2a6b8e" stroke="#1a1a1a" stroke-width="0.5"/>
<rect x="367.6" y="99.8" width="2.9" height="2.9" fill="#7fd13b" stroke="#1a1a1a" stroke-width="0.5"/>
<circle cx="374.9" cy="99.5" r="1.6" fill="#2a6b8e" stroke="#1a1a1a" stroke-width="0.5"/>
<rect x="372.6" y="103.5" width="2.9" height="2.9" fill="#2a6b8e" stroke="#1a1a1a" stroke-width="0.5"/>
<circle cx="378.4" cy="106.9" r="1.6" fill="#000000" stroke="#1a1a1a" stroke-width="0.5"/>
<circle cx="353.5" cy="106.9" r="1.6" fill="#2a6b8e" stroke="#1a1a1a" stroke-width="0.5"/>
<circle cx="351.7" cy="111.9" r="1.6" fill="#7fd13b" stroke="#1a1a1a" stroke-width="0.5"/>
<circle cx="401.0" cy="69.9" r="1.6" fill="#2a6b8e" stroke="#1a1a1a" stroke-width="0.5"/>
<circle cx="390.4" cy="84.7" r="1.6" fill="#2a6b8e" stroke="#1a1a1a" stroke-width="0.5"/>
<rect x="405.2" y="101.8" width="2.9" height="2.9" fill="#2a6b8e" stroke="#1a1a1a" stroke-width="0.5"/>
<circle cx="429.0" cy="102.5" r="1.6" fill="#7fd13b" stroke="#1a1a1a" stroke-width="0.5"/>
<rect x="399.1" y="115.1" width="2.9" height="2.9" fill="#7fd13b" stroke="#1a1a1a" stroke-width="0.5"/>
<circle cx="312.5" cy="81.2" r="1.6" fill="#000000" stroke="#1a1a1a" stroke-width="0.5"/>
<circle cx="315.7" cy="86.9" r="1.6" fill="#7fd13b" stroke="#1a1a1a" stroke-width="0.5"/>
<circle cx="324.9" cy="85.0" r="1.6" fill="#7fd13b" stroke="#1a1a1a" stroke-width="0.5"/>
<circle cx="322.4" cy="85.9" r="1.6" fill="#000000" stroke="#1a1a1a" stroke-width="0.5"/>
<rect x="325.4" y="86.0" width="2.9" height="2.9" fill="#2a6b8e" stroke="#1a1a1a" stroke-width="0.5"/>
<circle cx="289.8" cy="90.5" r="1.6" fill="#000000" stroke="#1a1a1a" stroke-width="0.5"/>
<circle cx="290.0" cy="93.0" r="1.6" fill="#2a6b8e" stroke="#1a1a1a" stroke-width="0.5"/>
<circle cx="324.4" cy="91.9" r="1.6" fill="#7fd13b" stroke="#1a1a1a" stroke-width="0.5"/>
<rect x="323.4" y="92.5" width="2.9" height="2.9" fill="#000000" stroke="#1a1a1a" stroke-width="0.5"/>
<circle cx="321.9" cy="96.7" r="1.6" fill="#2a6b8e" stroke="#1a1a1a" stroke-width="0.5"/>
<rect x="293.2" y="98.2" width="2.9" height="2.9" fill="#2a6b8e" stroke="#1a1a1a" stroke-width="0.5"/>
<circle cx="295.2" cy="103.4" r="1.6" fill="#000000" stroke="#1a1a1a" stroke-width="0.5"/>
<circle cx="281.1" cy="103.4" r="1.6" fill="#7fd13b" stroke="#1a1a1a" stroke-width="0.5"/>
<circle cx="280.4" cy="109.1" r="1.6" fill="#2a6b8e" stroke="#1a1a1a" stroke-width="0.5"/>
<circle cx="312.0" cy="102.2" r="1.6" fill="#2a6b8e" stroke="#1a1a1a" stroke-width="0.5"/>
<circle cx="314.9" cy="104.1" r="1.6" fill="#2a6b8e" stroke="#1a1a1a" stroke-width="0.5"/>
<circle cx="318.4" cy="99.8" r="1.6" fill="#000000" stroke="#1a1a1a" stroke-width="0.5"/>
<circle cx="314.9" cy="108.3" r="1.6" fill="#7fd13b" stroke="#1a1a1a" stroke-width="0.5"/>
<rect x="315.4" y="106.8" width="2.9" height="2.9" fill="#7fd13b" stroke="#1a1a1a" stroke-width="0.5"/>
<rect x="312.6" y="108.8" width="2.9" height="2.9" fill="#000000" stroke="#1a1a1a" stroke-width="0.5"/>
<rect x="307.6" y="110.5" width="2.9" height="2.9" fill="#7fd13b" stroke="#1a1a1a" stroke-width="0.5"/>
<circle cx="314.9" cy="112.5" r="1.6" fill="#2a6b8e" stroke="#1a1a1a" stroke-width="0.5"/>
<circle cx="294.0" cy="119.0" r="1.6" fill="#7fd13b" stroke="#1a1a1a" stroke-width="0.5"/>
<circle cx="329.9" cy="111.1" r="1.6" fill="#000000" stroke="#1a1a1a" stroke-width="0.5"/>
<circle cx="324.7" cy="106.5" r="1.6" fill="#000000" stroke="#1a1a1a" stroke-width="0.5"/>
<circle cx="346.0" cy="118.5" r="1.6" fill="#000000" stroke="#1a1a1a" stroke-width="0.5"/>
<circle cx="383.0" cy="126.0" r="1.6" fill="#7fd13b" stroke="#1a1a1a" stroke-width="0.5"/>
<circle cx="374.4" cy="132.1" r="1.6" fill="#000000" stroke="#1a1a1a" stroke-width="0.5"/>
<rect x="348.9" y="138.1" width="2.9" height="2.9" fill="#000000" stroke="#1a1a1a" stroke-width="0.5"/>
<circle cx="328.5" cy="150.4" r="1.6" fill="#2a6b8e" stroke="#1a1a1a" stroke-width="0.5"/>
<circle cx="357.4" cy="159.0" r="1.6" fill="#7fd13b" stroke="#1a1a1a" stroke-width="0.5"/>
<rect x="309.2" y="134.8" width="2.9" height="2.9" fill="#000000" stroke="#1a1a1a" stroke-width="0.5"/>
<circle cx="279.4" cy="155.2" r="1.6" fill="#000000" stroke="#1a1a1a" stroke-width="0.5"/>
<circle cx="352.2" cy="162.8" r="1.6" fill="#000000" stroke="#1a1a1a" stroke-width="0.5"/>
<circle cx="397.4" cy="131.0" r="1.6" fill="#7fd13b" stroke="#1a1a1a" stroke-width="0.5"/>
<circle cx="427.6" cy="146.6" r="1.6" fill="#2a6b8e" stroke="#1a1a1a" stroke-width="0.5"/>
<circle cx="385.9" cy="151.1" r="1.6" fill="#000000" stroke="#1a1a1a" stroke-width="0.5"/>
<circle cx="404.6" cy="153.8" r="1.6" fill="#000000" stroke="#1a1a1a" stroke-width="0.5"/>
<circle cx="431.3" cy="159.9" r="1.6" fill="#000000" stroke="#1a1a1a" stroke-width="0.5"/>
<circle cx="397.4" cy="170.5" r="1.6" fill="#000000" stroke="#1a1a1a" stroke-width="0.5"/>
<circle cx="584.6" cy="56.3" r="1.6" fill="#5b1450" stroke="#1a1a1a" stroke-width="0.5"/>
<rect x="540.0" y="80.5" width="2.9" height="2.9" fill="#5b1450" stroke="#1a1a1a" stroke-width="0.5"/>
<circle cx="508.6" cy="89.3" r="1.6" fill="#5b1450" stroke="#1a1a1a" stroke-width="0.5"/>
<rect x="503.9" y="89.5" width="2.9" height="2.9" fill="#5aaed0" stroke="#1a1a1a" stroke-width="0.5"/>
<circle cx="524.2" cy="86.9" r="1.6" fill="#e8452c" stroke="#1a1a1a" stroke-width="0.5"/>
<circle cx="525.4" cy="88.6" r="1.6" fill="#5b1450" stroke="#1a1a1a" stroke-width="0.5"/>
<rect x="528.6" y="91.3" width="2.9" height="2.9" fill="#5aaed0" stroke="#1a1a1a" stroke-width="0.5"/>
<circle cx="553.8" cy="92.8" r="1.6" fill="#5b1450" stroke="#1a1a1a" stroke-width="0.5"/>
<rect x="504.8" y="94.5" width="2.9" height="2.9" fill="#e8452c" stroke="#1a1a1a" stroke-width="0.5"/>
<rect x="524.4" y="99.5" width="2.9" height="2.9" fill="#5aaed0" stroke="#1a1a1a" stroke-width="0.5"/>
<circle cx="545.2" cy="98.5" r="1.6" fill="#5aaed0" stroke="#1a1a1a" stroke-width="0.5"/>
<circle cx="516.8" cy="107.6" r="1.6" fill="#5aaed0" stroke="#1a1a1a" stroke-width="0.5"/>
<circle cx="546.9" cy="105.9" r="1.6" fill="#5b1450" stroke="#1a1a1a" stroke-width="0.5"/>
<circle cx="543.2" cy="108.3" r="1.6" fill="#5b1450" stroke="#1a1a1a" stroke-width="0.5"/>
<circle cx="553.8" cy="105.1" r="1.6" fill="#5aaed0" stroke="#1a1a1a" stroke-width="0.5"/>
<rect x="504.9" y="113.8" width="2.9" height="2.9" fill="#5b1450" stroke="#1a1a1a" stroke-width="0.5"/>
<circle cx="524.5" cy="115.2" r="1.6" fill="#5b1450" stroke="#1a1a1a" stroke-width="0.5"/>
<rect x="526.0" y="115.8" width="2.9" height="2.9" fill="#e8452c" stroke="#1a1a1a" stroke-width="0.5"/>
<rect x="538.0" y="116.0" width="2.9" height="2.9" fill="#5aaed0" stroke="#1a1a1a" stroke-width="0.5"/>
<circle cx="543.2" cy="117.0" r="1.6" fill="#5aaed0" stroke="#1a1a1a" stroke-width="0.5"/>
<circle cx="556.5" cy="112.5" r="1.6" fill="#5b1450" stroke="#1a1a1a" stroke-width="0.5"/>
<circle cx="557.0" cy="114.6" r="1.6" fill="#5aaed0" stroke="#1a1a1a" stroke-width="0.5"/>
<circle cx="543.2" cy="120.7" r="1.6" fill="#5aaed0" stroke="#1a1a1a" stroke-width="0.5"/>
<circle cx="546.4" cy="123.1" r="1.6" fill="#e8452c" stroke="#1a1a1a" stroke-width="0.5"/>
<rect x="555.3" y="118.0" width="2.9" height="2.9" fill="#5aaed0" stroke="#1a1a1a" stroke-width="0.5"/>
<circle cx="522.5" cy="125.8" r="1.6" fill="#e8452c" stroke="#1a1a1a" stroke-width="0.5"/>
<rect x="525.5" y="126.3" width="2.9" height="2.9" fill="#5b1450" stroke="#1a1a1a" stroke-width="0.5"/>
<circle cx="512.3" cy="130.8" r="1.6" fill="#5aaed0" stroke="#1a1a1a" stroke-width="0.5"/>
<circle cx="518.0" cy="133.6" r="1.6" fill="#5b1450" stroke="#1a1a1a" stroke-width="0.5"/>
<circle cx="544.4" cy="132.1" r="1.6" fill="#e8452c" stroke="#1a1a1a" stroke-width="0.5"/>
<rect x="541.0" y="133.5" width="2.9" height="2.9" fill="#e8452c" stroke="#1a1a1a" stroke-width="0.5"/>
<rect x="555.8" y="134.6" width="2.9" height="2.9" fill="#5b1450" stroke="#1a1a1a" stroke-width="0.5"/>
<circle cx="508.8" cy="143.6" r="1.6" fill="#e8452c" stroke="#1a1a1a" stroke-width="0.5"/>
<circle cx="515.2" cy="148.0" r="1.6" fill="#e8452c" stroke="#1a1a1a" stroke-width="0.5"/>
<circle cx="544.9" cy="141.1" r="1.6" fill="#e8452c" stroke="#1a1a1a" stroke-width="0.5"/>
<circle cx="545.7" cy="147.8" r="1.6" fill="#5b1450" stroke="#1a1a1a" stroke-width="0.5"/>
<circle cx="555.8" cy="153.4" r="1.6" fill="#5aaed0" stroke="#1a1a1a" stroke-width="0.5"/>
<circle cx="555.5" cy="187.5" r="1.6" fill="#e8452c" stroke="#1a1a1a" stroke-width="0.5"/>
<rect x="579.4" y="80.2" width="2.9" height="2.9" fill="#5b1450" stroke="#1a1a1a" stroke-width="0.5"/>
<circle cx="586.6" cy="81.0" r="1.6" fill="#e8452c" stroke="#1a1a1a" stroke-width="0.5"/>
<circle cx="583.4" cy="86.7" r="1.6" fill="#5b1450" stroke="#1a1a1a" stroke-width="0.5"/>
<rect x="584.4" y="90.1" width="2.9" height="2.9" fill="#5aaed0" stroke="#1a1a1a" stroke-width="0.5"/>
<circle cx="559.9" cy="89.1" r="1.6" fill="#5b1450" stroke="#1a1a1a" stroke-width="0.5"/>
<circle cx="560.4" cy="95.8" r="1.6" fill="#e8452c" stroke="#1a1a1a" stroke-width="0.5"/>
<circle cx="610.0" cy="95.8" r="1.6" fill="#5b1450" stroke="#1a1a1a" stroke-width="0.5"/>
<rect x="582.6" y="100.0" width="2.9" height="2.9" fill="#5aaed0" stroke="#1a1a1a" stroke-width="0.5"/>
<circle cx="578.8" cy="111.3" r="1.6" fill="#5aaed0" stroke="#1a1a1a" stroke-width="0.5"/>
<circle cx="580.9" cy="113.0" r="1.6" fill="#e8452c" stroke="#1a1a1a" stroke-width="0.5"/>
<rect x="602.4" y="114.3" width="2.9" height="2.9" fill="#5aaed0" stroke="#1a1a1a" stroke-width="0.5"/>
<rect x="579.4" y="118.0" width="2.9" height="2.9" fill="#5b1450" stroke="#1a1a1a" stroke-width="0.5"/>
<circle cx="557.5" cy="119.4" r="1.6" fill="#e8452c" stroke="#1a1a1a" stroke-width="0.5"/>
<rect x="599.2" y="120.5" width="2.9" height="2.9" fill="#5b1450" stroke="#1a1a1a" stroke-width="0.5"/>
<circle cx="613.9" cy="132.7" r="1.6" fill="#5aaed0" stroke="#1a1a1a" stroke-width="0.5"/>
<circle cx="559.4" cy="143.3" r="1.6" fill="#e8452c" stroke="#1a1a1a" stroke-width="0.5"/>
<circle cx="582.7" cy="141.6" r="1.6" fill="#5aaed0" stroke="#1a1a1a" stroke-width="0.5"/>
<circle cx="584.6" cy="143.3" r="1.6" fill="#e8452c" stroke="#1a1a1a" stroke-width="0.5"/>
<circle cx="587.1" cy="145.1" r="1.6" fill="#e8452c" stroke="#1a1a1a" stroke-width="0.5"/>
<circle cx="610.2" cy="139.2" r="1.6" fill="#e8452c" stroke="#1a1a1a" stroke-width="0.5"/>
<circle cx="599.4" cy="156.4" r="1.6" fill="#e8452c" stroke="#1a1a1a" stroke-width="0.5"/>
<circle cx="601.9" cy="157.4" r="1.6" fill="#e8452c" stroke="#1a1a1a" stroke-width="0.5"/>
<circle cx="627.4" cy="79.6" r="1.6" fill="#5b1450" stroke="#1a1a1a" stroke-width="0.5"/>
<circle cx="658.7" cy="118.7" r="1.6" fill="#5b1450" stroke="#1a1a1a" stroke-width="0.5"/>
<circle cx="626.6" cy="122.8" r="1.6" fill="#5aaed0" stroke="#1a1a1a" stroke-width="0.5"/>
<rect x="633.9" y="127.9" width="2.9" height="2.9" fill="#5b1450" stroke="#1a1a1a" stroke-width="0.5"/>
<rect x="631.2" y="132.1" width="2.9" height="2.9" fill="#5aaed0" stroke="#1a1a1a" stroke-width="0.5"/>
<circle cx="632.7" cy="137.3" r="1.6" fill="#e8452c" stroke="#1a1a1a" stroke-width="0.5"/>
<circle cx="662.1" cy="131.9" r="1.6" fill="#5aaed0" stroke="#1a1a1a" stroke-width="0.5"/>
<circle cx="621.2" cy="163.5" r="1.6" fill="#e8452c" stroke="#1a1a1a" stroke-width="0.5"/>
<circle cx="659.2" cy="172.5" r="1.6" fill="#e8452c" stroke="#1a1a1a" stroke-width="0.5"/>
<rect x="630.4" y="188.6" width="2.9" height="2.9" fill="#e8452c" stroke="#1a1a1a" stroke-width="0.5"/>
<path d="M38.9,21 V206.3 H213.3" fill="none" stroke="#a4a4a4" stroke-width="1.3"/>
<line x1="37.0" y1="21.9" x2="38.9" y2="21.9" stroke="#333" stroke-width="0.8"/>
<text x="37.5" y="24.9" text-anchor="end" class="tk">70</text>
<line x1="37.0" y1="35.78476416938919" x2="38.9" y2="35.78476416938919" stroke="#333" stroke-width="0.8"/>
<text x="37.5" y="38.78476416938919" text-anchor="end" class="tk">60</text>
<line x1="37.0" y1="52.2069545996666" x2="38.9" y2="52.2069545996666" stroke="#333" stroke-width="0.8"/>
<text x="37.5" y="55.2069545996666" text-anchor="end" class="tk">50</text>
<line x1="37.0" y1="72.30609129753746" x2="38.9" y2="72.30609129753746" stroke="#333" stroke-width="0.8"/>
<text x="37.5" y="75.30609129753746" text-anchor="end" class="tk">40</text>
<line x1="37.0" y1="98.2183852700989" x2="38.9" y2="98.2183852700989" stroke="#333" stroke-width="0.8"/>
<text x="37.5" y="101.2183852700989" text-anchor="end" class="tk">30</text>
<line x1="37.0" y1="134.73971239824718" x2="38.9" y2="134.73971239824718" stroke="#333" stroke-width="0.8"/>
<text x="37.5" y="137.73971239824718" text-anchor="end" class="tk">20</text>
<line x1="37.0" y1="197.1733334989569" x2="38.9" y2="197.1733334989569" stroke="#333" stroke-width="0.8"/>
<text x="37.5" y="200.1733334989569" text-anchor="end" class="tk">10</text>
<line x1="74.2" y1="206.3" x2="74.2" y2="208.3" stroke="#333" stroke-width="0.8"/>
<text x="74.2" y="215.3" text-anchor="middle" class="tk">0.2</text>
<line x1="119.0" y1="206.3" x2="119.0" y2="208.3" stroke="#333" stroke-width="0.8"/>
<text x="119.0" y="215.3" text-anchor="middle" class="tk">0.4</text>
<line x1="163.8" y1="206.3" x2="163.8" y2="208.3" stroke="#333" stroke-width="0.8"/>
<text x="163.8" y="215.3" text-anchor="middle" class="tk">0.6</text>
<line x1="208.60000000000002" y1="206.3" x2="208.60000000000002" y2="208.3" stroke="#333" stroke-width="0.8"/>
<text x="208.60000000000002" y="215.3" text-anchor="middle" class="tk">0.8</text>
<text transform="translate(13.8,114.2) rotate(-90)" text-anchor="middle" class="lab">Home range size [ha]</text>
<text x="125.8" y="235.8" text-anchor="middle" class="lab">Preference for feeding sites</text>
<text x="8.1" y="11.2" class="ttl">(a)</text>
<path d="M269.8,21 V206.3 H444.5" fill="none" stroke="#a4a4a4" stroke-width="1.3"/>
<line x1="267.90000000000003" y1="21.7" x2="269.8" y2="21.7" stroke="#333" stroke-width="0.8"/>
<text x="268.40000000000003" y="24.7" text-anchor="end" class="tk">20.0</text>
<line x1="267.90000000000003" y1="58.184835474474525" x2="269.8" y2="58.184835474474525" stroke="#333" stroke-width="0.8"/>
<text x="268.40000000000003" y="61.184835474474525" text-anchor="end" class="tk">10.0</text>
<line x1="267.90000000000003" y1="94.66967094894905" x2="269.8" y2="94.66967094894905" stroke="#333" stroke-width="0.8"/>
<text x="268.40000000000003" y="97.66967094894905" text-anchor="end" class="tk">5.0</text>
<line x1="267.90000000000003" y1="131.15450642342356" x2="269.8" y2="131.15450642342356" stroke="#333" stroke-width="0.8"/>
<text x="268.40000000000003" y="134.15450642342356" text-anchor="end" class="tk">2.5</text>
<line x1="267.90000000000003" y1="179.38483547447453" x2="269.8" y2="179.38483547447453" stroke="#333" stroke-width="0.8"/>
<text x="268.40000000000003" y="182.38483547447453" text-anchor="end" class="tk">1.0</text>
<line x1="305.4" y1="206.3" x2="305.4" y2="208.3" stroke="#333" stroke-width="0.8"/>
<text x="305.4" y="215.3" text-anchor="middle" class="tk">0.2</text>
<line x1="350.1" y1="206.3" x2="350.1" y2="208.3" stroke="#333" stroke-width="0.8"/>
<text x="350.1" y="215.3" text-anchor="middle" class="tk">0.4</text>
<line x1="394.79999999999995" y1="206.3" x2="394.79999999999995" y2="208.3" stroke="#333" stroke-width="0.8"/>
<text x="394.79999999999995" y="215.3" text-anchor="middle" class="tk">0.6</text>
<line x1="439.5" y1="206.3" x2="439.5" y2="208.3" stroke="#333" stroke-width="0.8"/>
<text x="439.5" y="215.3" text-anchor="middle" class="tk">0.8</text>
<text transform="translate(245.6,114.7) rotate(-90)" text-anchor="middle" class="lab">Core area size [ha]</text>
<text x="357" y="235.8" text-anchor="middle" class="lab">Preference for feeding sites</text>
<text x="239.6" y="11.2" class="ttl">(b)</text>
<path d="M501.2,21 V206.3 H675.6" fill="none" stroke="#a4a4a4" stroke-width="1.3"/>
<line x1="499.3" y1="22.19999999999999" x2="501.2" y2="22.19999999999999" stroke="#333" stroke-width="0.8"/>
<text x="499.8" y="25.19999999999999" text-anchor="end" class="tk">1.00</text>
<line x1="499.3" y1="67.39999999999998" x2="501.2" y2="67.39999999999998" stroke="#333" stroke-width="0.8"/>
<text x="499.8" y="70.39999999999998" text-anchor="end" class="tk">0.75</text>
<line x1="499.3" y1="112.6" x2="501.2" y2="112.6" stroke="#333" stroke-width="0.8"/>
<text x="499.8" y="115.6" text-anchor="end" class="tk">0.50</text>
<line x1="499.3" y1="157.8" x2="501.2" y2="157.8" stroke="#333" stroke-width="0.8"/>
<text x="499.8" y="160.8" text-anchor="end" class="tk">0.25</text>
<line x1="499.3" y1="203.0" x2="501.2" y2="203.0" stroke="#333" stroke-width="0.8"/>
<text x="499.8" y="206.0" text-anchor="end" class="tk">0.00</text>
<line x1="536.1999999999999" y1="206.3" x2="536.1999999999999" y2="208.3" stroke="#333" stroke-width="0.8"/>
<text x="536.1999999999999" y="215.3" text-anchor="middle" class="tk">0.2</text>
<line x1="581.0" y1="206.3" x2="581.0" y2="208.3" stroke="#333" stroke-width="0.8"/>
<text x="581.0" y="215.3" text-anchor="middle" class="tk">0.4</text>
<line x1="625.8" y1="206.3" x2="625.8" y2="208.3" stroke="#333" stroke-width="0.8"/>
<text x="625.8" y="215.3" text-anchor="middle" class="tk">0.6</text>
<line x1="670.6" y1="206.3" x2="670.6" y2="208.3" stroke="#333" stroke-width="0.8"/>
<text x="670.6" y="215.3" text-anchor="middle" class="tk">0.8</text>
<text transform="translate(477.3,114.3) rotate(-90)" text-anchor="middle" class="lab">Space&#8722;use overlap</text>
<text x="588.5" y="235.8" text-anchor="middle" class="lab">Preference for feeding sites</text>
<text x="470.1" y="11.2" class="ttl">(c)</text>
<text x="69.2" y="188.4" text-anchor="middle" class="r2">m<tspan font-style="italic">R</tspan><tspan dy="-3.6" font-size="5.2">2</tspan><tspan dy="3.6" dx="1.7">=</tspan><tspan dx="1.6" letter-spacing="0.45">0.12</tspan></text><text x="69.2" y="198.8" text-anchor="middle" class="r2">c<tspan font-style="italic">R</tspan><tspan dy="-3.6" font-size="5.2">2</tspan><tspan dy="3.6" dx="1.7">=</tspan><tspan dx="1.6" letter-spacing="0.45">0.62</tspan></text>
<text x="300.4" y="188.4" text-anchor="middle" class="r2">m<tspan font-style="italic">R</tspan><tspan dy="-3.6" font-size="5.2">2</tspan><tspan dy="3.6" dx="1.7">=</tspan><tspan dx="1.6" letter-spacing="0.45">0.35</tspan></text><text x="300.4" y="198.8" text-anchor="middle" class="r2">c<tspan font-style="italic">R</tspan><tspan dy="-3.6" font-size="5.2">2</tspan><tspan dy="3.6" dx="1.7">=</tspan><tspan dx="1.6" letter-spacing="0.45">0.51</tspan></text>
<text x="531.9" y="188.4" text-anchor="middle" class="r2">m<tspan font-style="italic">R</tspan><tspan dy="-3.6" font-size="5.2">2</tspan><tspan dy="3.6" dx="1.7">=</tspan><tspan dx="1.6" letter-spacing="0.45">0.37</tspan></text><text x="531.9" y="198.8" text-anchor="middle" class="r2">c<tspan font-style="italic">R</tspan><tspan dy="-3.6" font-size="5.2">2</tspan><tspan dy="3.6" dx="1.7">=</tspan><tspan dx="1.6" letter-spacing="0.45">0.50</tspan></text>
<rect x="384.3" y="18.3" width="59.8" height="44" fill="#fff" stroke="#555" stroke-width="0.8"/>
<text x="387.3" y="26.9" class="lgt">Exp. phase</text>
<rect x="390.0" y="35.0" width="2.6" height="2.6" fill="#000000" stroke="#222" stroke-width="0.4"/>
<text x="400.3" y="39.099999999999994" class="lg">Pre&#8722;closure</text>
<circle cx="391.3" cy="45.5" r="1.4" fill="#2a6b8e" stroke="#222" stroke-width="0.4"/>
<text x="400.3" y="48.3" class="lg">Closure</text>
<rect x="390.0" y="53.4" width="2.6" height="2.6" fill="#7fd13b" stroke="#222" stroke-width="0.4"/>
<text x="400.3" y="57.49999999999999" class="lg">Post&#8722;closure</text>
<rect x="602.3" y="18.6" width="70.2" height="43.6" fill="#fff" stroke="#555" stroke-width="0.8"/>
<text x="605.3" y="27.200000000000003" class="lgt">Exp. contrast</text>
<circle cx="609.3" cy="36.6" r="1.4" fill="#e8452c" stroke="#222" stroke-width="0.4"/>
<text x="618.3" y="39.4" class="lg">Pre&#8722;c./Closure</text>
<circle cx="609.3" cy="45.8" r="1.4" fill="#5aaed0" stroke="#222" stroke-width="0.4"/>
<text x="618.3" y="48.599999999999994" class="lg">Closure/Post&#8722;c.</text>
<rect x="608.0" y="53.7" width="2.6" height="2.6" fill="#5b1450" stroke="#222" stroke-width="0.4"/>
<text x="618.3" y="57.8" class="lg">Pre&#8722;c./Post&#8722;c.</text>
</svg>
</body></html>
